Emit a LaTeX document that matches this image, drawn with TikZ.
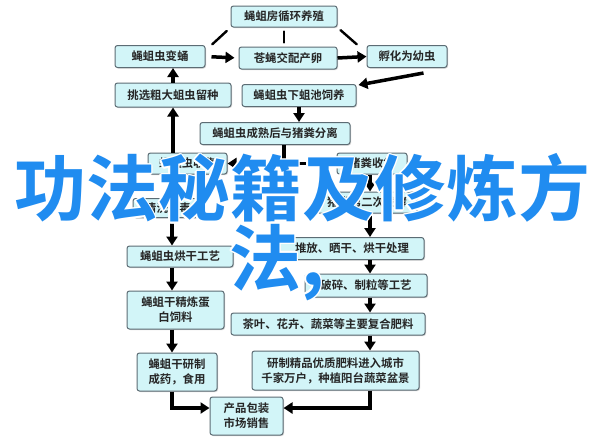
\documentclass[tikz,border=0pt]{standalone}
\usepackage{fontspec}
\newfontfamily\cjk{Noto Sans CJK SC}[BoldFont={Noto Sans CJK SC Bold}]
\usepackage{contour}
\contourlength{1.4pt}
\usetikzlibrary{arrows.meta,shadows}
\definecolor{boxfill}{RGB}{210,245,248}
\definecolor{boxline}{RGB}{92,108,116}
\definecolor{markblue}{RGB}{32,140,240}
\begin{document}
\begin{tikzpicture}[x=1pt, y=-1pt, font=\cjk\bfseries\fontsize{11.4}{15}\selectfont, >={Triangle[length=9pt,width=11pt]},
  box/.style={draw=boxline, line width=1pt, fill=boxfill, rounded corners=2.5pt, inner sep=0pt, align=center,
    text=black!85, minimum height=22pt, drop shadow={shadow xshift=1pt, shadow yshift=-1pt, opacity=.35}},
  flow/.style={->, line width=3.5pt},
  link/.style={line width=2.4pt, line cap=round},
  watermark/.style={text=markblue, inner sep=0pt, font=\cjk\bfseries\fontsize{72}{76}\selectfont}]
\fill[white] (0,0) rectangle (604,445);
\useasboundingbox (0,0) rectangle (604,445);
\coordinate (lcol) at (172,0);
\coordinate (rcol) at (370,0);
\coordinate (bot) at (0,408);
\coordinate (fen) at (284,163.5);
% top loop
\node[box, minimum width=106pt, minimum height=21pt] (yang) at (284,16.5) {蝇蛆房循环养殖};
\node[box, minimum width=90pt] (yong) at (160,56.5) {蝇蛆虫变蛹};
\node[box, minimum width=98pt] (luan) at (288,58) {苍蝇交配产卵};
\node[box, minimum width=80pt] (fuhua) at (407,56.5) {孵化为幼虫};
\node[box, minimum width=116pt, minimum height=24pt] (liuzhong) at (173,95) {挑选粗大蛆虫留种};
\node[box, minimum width=114pt] (siyang) at (299,95.5) {蝇蛆虫下蛆池饲养};
\node[box, minimum width=150pt] (fenli) at (275,133.5) {蝇蛆虫成熟后与猪粪分离};
% left column
\node[box, minimum width=79pt, minimum height=21pt] (shouji) at (187.5,163.5) {蝇蛆虫收集};
\node[box, minimum width=70pt, minimum height=19pt] (xiaodu) at (168,208) {清洗消毒};
\node[box, minimum width=106pt, minimum height=21pt] (honggan) at (180,256.5) {蝇蛆虫烘干工艺};
\node[box, minimum width=97pt, minimum height=38pt] (siliao) at (175.5,310) {蝇蛆干精炼蛋\\白饲料};
\node[box, minimum width=80pt, minimum height=38pt] (zhiyao) at (177,372) {蝇蛆干研制\\成药，食用};
% right column
\node[box, minimum width=70pt, minimum height=21pt] (fenji) at (372,163.5) {猪粪收集};
\node[box, minimum width=100pt, minimum height=21pt] (fajiao) at (367,202.5) {猪粪第二次发酵};
\node[box, minimum width=144pt] (duifang) at (352,248.5) {堆放、晒干、烘干处理};
\node[box, minimum width=122pt, minimum height=23pt] (posui) at (366,285.5) {破碎、制粒等工艺};
\node[box, minimum width=194pt] (feiliao) at (328,324) {茶叶、花卉、蔬菜等主要复合肥料};
\node[box, minimum width=167pt, minimum height=39pt] (chengshi) at (335.5,370.5) {研制精品优质肥料进入城市\\千家万户，种植阳台蔬菜盆景};
\node[box, minimum width=73pt, minimum height=38pt] (xiaoshou) at (246.5,416) {产品包装\\市场销售};
% connectors
\draw[link, shorten <=5pt, shorten >=1pt] (yang.south west) -- ([xshift=6pt]yong.north east);
\draw[link, shorten <=4pt, shorten >=4pt] (yang.south) -- (yang.south |- luan.north);
\draw[link, shorten <=4pt, shorten >=1pt] (yang.south east) -- ([xshift=-9pt]fuhua.north west);
\draw[flow, shorten <=6pt, shorten >=4pt] (yong.east) -- (luan.west);
\draw[flow] (luan.east) -- (fuhua.west);
\draw[flow] ([xshift=-24pt, yshift=-5pt]fuhua.south east) -- ([xshift=2pt, yshift=-1pt]siyang.north east);
\draw[flow] (liuzhong.north) -- (liuzhong.north |- yong.south);
\draw[flow, line width=4.5pt] (liuzhong.south |- shouji.north) -- (liuzhong.south);
\draw[flow] (siyang.south) -- (siyang.south |- fenli.north);
\draw[line width=3.5pt] (fen |- fenli.south) -- (fen);
\draw[flow] (fen) -- (shouji.east);
\draw[flow] (fen) -- (fenji.west);
\foreach \a/\b in {shouji/xiaodu, xiaodu/honggan, honggan/siliao, siliao/zhiyao}
  \draw[flow] (\a.south -| lcol) -- (\b.north -| lcol);
\foreach \a/\b in {fenji/fajiao, fajiao/duifang, duifang/posui, posui/feiliao, feiliao/chengshi}
  \draw[flow] (\a.south -| rcol) -- (\b.north -| rcol);
\draw[flow] (zhiyao.south -| lcol) -- (bot -| lcol) -- (bot -| xiaoshou.west);
\draw[flow] (chengshi.south -| rcol) -- (bot -| rcol) -- (bot -| xiaoshou.east);
% overlay title
\node[watermark] (title) at (302,189) {\contour{white}{功法秘籍及修炼方}};
\node[watermark, anchor=west] (title2) at (229,263) {\contour{white}{法,}};
\end{tikzpicture}
\end{document}
